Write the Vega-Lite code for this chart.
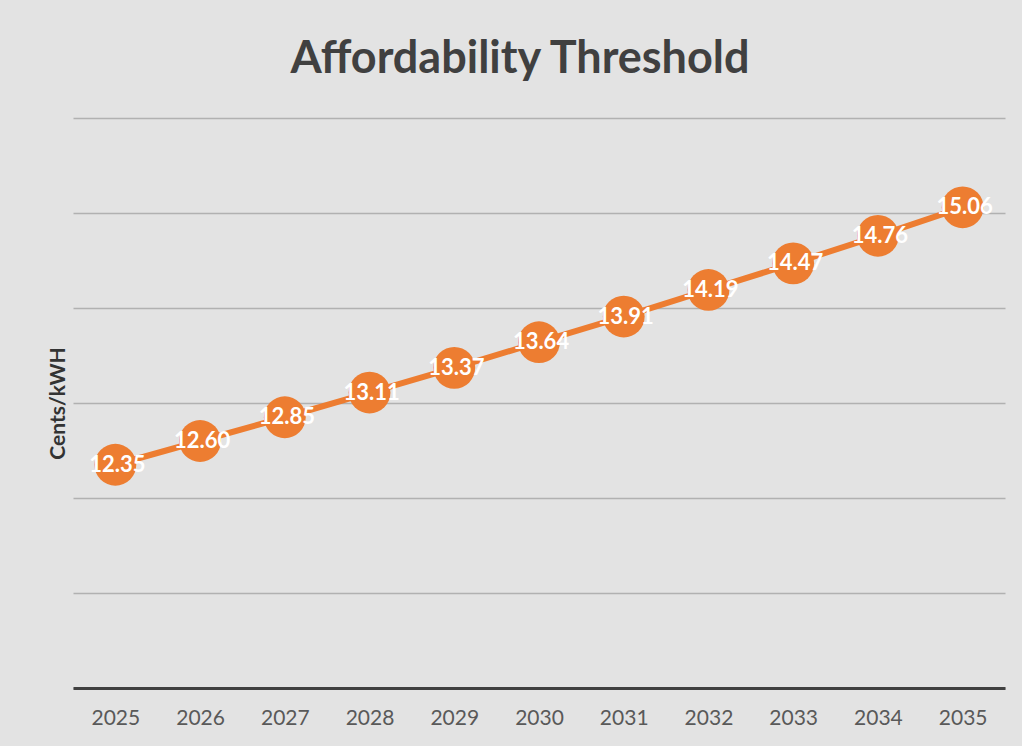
{
  "$schema": "https://vega.github.io/schema/vega-lite/v6.json",
  "width": 932,
  "height": 570,
  "autosize": {"type": "none"},
  "padding": {"left": 73, "top": 118, "right": 17, "bottom": 58},
  "background": "#e3e3e3",
  "title": {
    "text": "Affordability Threshold",
    "font": "Lato",
    "fontSize": 45,
    "fontWeight": "bold",
    "color": "#404040",
    "anchor": "middle",
    "dx": -19,
    "offset": 36
  },
  "data": {
    "values": [
      {"year": "2025", "value": 12.35},
      {"year": "2026", "value": 12.60},
      {"year": "2027", "value": 12.85},
      {"year": "2028", "value": 13.11},
      {"year": "2029", "value": 13.37},
      {"year": "2030", "value": 13.64},
      {"year": "2031", "value": 13.91},
      {"year": "2032", "value": 14.19},
      {"year": "2033", "value": 14.47},
      {"year": "2034", "value": 14.76},
      {"year": "2035", "value": 15.06}
    ]
  },
  "encoding": {
    "x": {
      "field": "year",
      "type": "ordinal",
      "scale": {"type": "point", "padding": 0.5},
      "axis": {
        "title": null,
        "labelAngle": 0,
        "labelFont": "Lato",
        "labelFontSize": 21,
        "labelColor": "#595959",
        "labelPadding": 19,
        "ticks": false,
        "domainColor": "#404040",
        "domainWidth": 3,
        "grid": false
      }
    },
    "y": {
      "field": "value",
      "type": "quantitative",
      "scale": {"domain": [10, 16], "nice": false, "zero": false},
      "axis": {
        "title": "Cents/kWH",
        "titleFont": "Lato",
        "titleFontSize": 21,
        "titleFontWeight": "bold",
        "titleColor": "#333333",
        "titlePadding": 5,
        "labels": false,
        "ticks": false,
        "domain": false,
        "values": [10, 11, 12, 13, 14, 15, 16],
        "grid": true,
        "gridColor": "#000000",
        "gridOpacity": 0.22,
        "gridWidth": 1.5
      }
    }
  },
  "layer": [
    {"mark": {"type": "line", "color": "#ED7D31", "strokeWidth": 6}},
    {"mark": {"type": "point", "filled": true, "color": "#ED7D31", "opacity": 1, "size": 1750, "shape": "circle"}},
    {
      "mark": {"type": "text", "color": "#ffffff", "font": "Lato", "fontSize": 22, "fontWeight": "bold", "dx": 2, "baseline": "middle"},
      "encoding": {"text": {"field": "value", "type": "quantitative", "format": ".2f"}}
    }
  ],
  "config": {"view": {"stroke": null}}
}
